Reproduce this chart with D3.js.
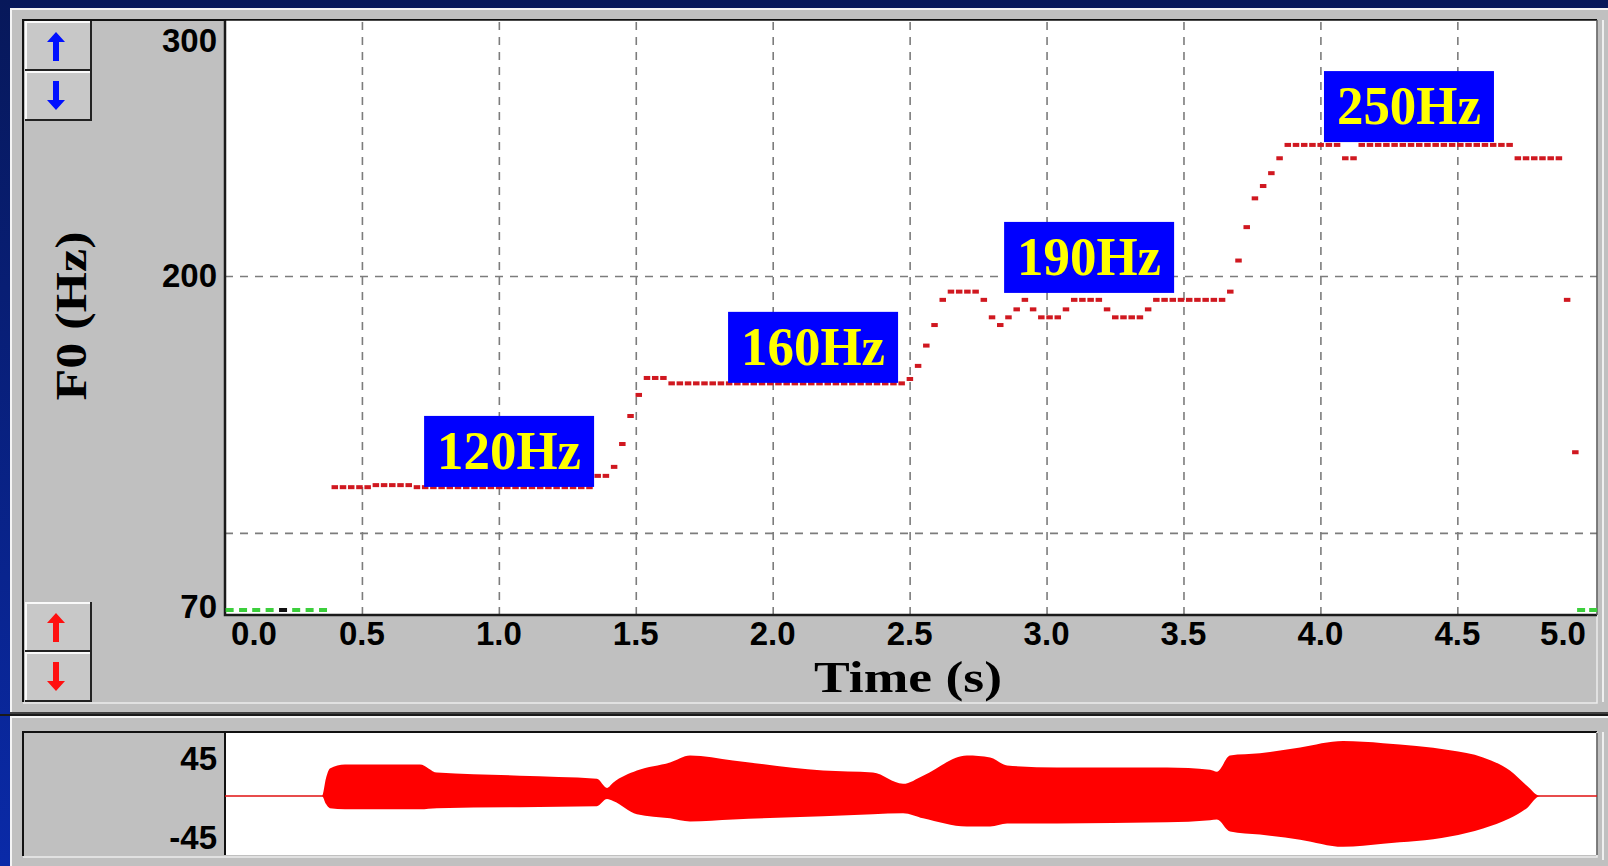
<!DOCTYPE html>
<html>
<head>
<meta charset="utf-8">
<script src="https://cdn.jsdelivr.net/npm/d3@7"></script>
<style>
  html, body { margin: 0; padding: 0; overflow: hidden; background: #0a1f7a; }
  svg { display: block; }
  .tick-label { font-family: 'Liberation Sans', Arial, sans-serif; font-weight: bold; font-size: 33px; fill: #000; }
  .axis-title { font-family: 'Liberation Serif', 'Times New Roman', serif; font-weight: bold; font-size: 44px; fill: #000; }
  .tag text { font-family: 'Liberation Serif', 'Times New Roman', serif; font-weight: bold; font-size: 55px; fill: #ffff00; }
</style>
</head>
<body>
<svg id="chart"></svg>
<script>
// F0 track: one value per analysis frame (Hz)
var f0Start = 0.40
var frameStep = 0.03
var f0Values = [
  117.8, 117.8, 117.8, 117.8, 117.8,
  118.6, 118.6, 118.6, 118.6, 118.6,
  117.8, 117.8, 117.8, 117.8, 117.8, 117.8, 117.8, 117.8, 117.8, 117.8, 117.8,
  117.8, 117.8, 117.8, 117.8, 117.8, 117.8, 117.8, 117.8, 117.8, 117.8, 117.8,
  122.2, 122.2,
  125.7, 134.6, 145.5, 153.7,
  160.3, 160.3, 160.3,
  158.2, 158.2, 158.2, 158.2, 158.2, 158.2, 158.2, 158.2, 158.2, 158.2,
  158.2, 158.2, 158.2, 158.2, 158.2, 158.2, 158.2, 158.2, 158.2, 158.2,
  158.2, 158.2, 158.2, 158.2, 158.2, 158.2, 158.2, 158.2, 158.2,
  159.9, 165.0, 172.9, 180.9, 190.7,
  193.9, 193.9, 193.9, 193.9,
  190.7, 183.9, 180.9, 183.9, 187.0, 190.7, 187.0,
  183.9, 183.9, 183.9,
  187.0,
  190.7, 190.7, 190.7, 190.7,
  187.0,
  183.9, 183.9, 183.9, 183.9,
  187.0,
  190.7, 190.7, 190.7, 190.7, 190.7, 190.7, 190.7, 190.7, 190.7,
  193.9, 206.0, 219.0, 230.2, 235.0, 240.0, 245.8,
  251.0, 251.0, 251.0, 251.0, 251.0, 251.0, 251.0,
  245.8, 245.8,
  251.0, 251.0, 251.0, 251.0, 251.0, 251.0, 251.0, 251.0, 251.0, 251.0,
  251.0, 251.0, 251.0, 251.0, 251.0, 251.0, 251.0, 251.0, 251.0,
  245.8, 245.8, 245.8, 245.8, 245.8, 245.8,
  190.7, 131.4
]

// voicing markers along the floor (green = unvoiced, black = silence)
var markTimes = [0.006, 0.055, 0.103, 0.152, 0.201, 0.249, 0.298, 0.347, 4.941, 4.985]
var markKinds = ['u', 'u', 'u', 'u', 's', 'u', 'u', 'u', 'u', 'u']

// annotation tags: time of left edge, Hz at bottom edge
var tagText = ['120Hz', '160Hz', '190Hz', '250Hz']
var tagTime = [0.727, 1.837, 2.845, 4.013]
var tagHz = [117.9, 158.4, 193.4, 252.1]

// ticks
var xTicks = [0.0, 0.5, 1.0, 1.5, 2.0, 2.5, 3.0, 3.5, 4.0, 4.5, 5.0]
var xGrid = [0.5, 1.0, 1.5, 2.0, 2.5, 3.0, 3.5, 4.0, 4.5]
var yTicks = [70, 200, 300]
var yGrid = [100, 200]
var ampTicks = [45, -45]

// waveform envelope (amplitude units)
var envTimes = [0.00, 0.354, 0.369, 0.383, 0.438, 0.712, 0.774, 1.077, 1.358, 1.395, 1.417,
  1.504, 1.625, 1.698, 1.855, 2.184, 2.366, 2.476, 2.549, 2.709, 2.794, 2.856, 3.038,
  3.440, 3.597, 3.622, 3.670, 3.779, 3.926, 4.083, 4.229, 4.473, 4.594, 4.692, 4.754, 4.802, 5.01]
var envUpper = [0, 0, 20, 30.5, 35, 35, 26, 22.6, 19.2, 9, 14.7,
  28.2, 37.2, 45, 39.5, 28.2, 26, 13.5, 22.6, 45, 42.9, 33.9, 31.6,
  31.6, 29.3, 27, 45, 47.4, 54, 61, 58.7, 50.8, 42.9, 28.2, 11.3, 0, 0]
var envLower = [0, 0, -9, -13.5, -14.7, -14.7, -13.5, -12.4, -11.3, -3.4, -5.6,
  -20.3, -24.8, -28.2, -26, -22.6, -20.3, -19.2, -24.8, -33.9, -33.9, -30.5, -30.5,
  -29.3, -27, -26, -39.5, -42.9, -48.5, -56.4, -53, -45, -36, -24.8, -13.5, 0, 0]

var W = 1608, H = 866
var plotL = 225, plotR = 1597, plotT = 20, plotB = 615
var waveT = 733, waveB = 855

var svg = d3.select('#chart').attr('width', W).attr('height', H)

var x = d3.scaleLinear().domain([0, 5.01]).range([plotL, plotR])
var y = d3.scaleLinear().domain([70, 300]).range([610, 19])
var amp = d3.scaleLinear().domain([-70, 70]).range([859, 733])

// slide background
var defs = svg.append('defs')
var grad = defs.append('linearGradient').attr('id', 'bg')
  .attr('x1', 0).attr('y1', 0).attr('x2', 0).attr('y2', 1)
grad.append('stop').attr('offset', '0%').attr('stop-color', '#07185a')
grad.append('stop').attr('offset', '100%').attr('stop-color', '#0a2aa8')
svg.append('rect').attr('width', W).attr('height', H).attr('fill', 'url(#bg)')

var _line = function(d, stroke, width) {
  svg.append('path').attr('d', d).attr('fill', 'none')
    .attr('stroke', stroke).attr('stroke-width', width || 1)
}

// window frames
svg.append('rect').attr('x', 10).attr('y', 8).attr('width', W).attr('height', 706).attr('fill', '#c0c0c0')
_line('M11,713V9H' + W, '#f4f4f4', 2)
_line('M10,713H' + W, '#404040', 2)
svg.append('rect').attr('x', 10).attr('y', 716).attr('width', W).attr('height', 160).attr('fill', '#c0c0c0')
_line('M11,' + H + 'V717H' + W, '#f4f4f4', 2)
_line('M0,715H' + W, '#1a1a1a', 2)

// sunken panels
_line('M23,702V20H' + plotR, '#111', 2)
_line('M23,703H' + plotR + 'V20', '#ececec', 1.5)
_line('M' + (plotR + 6) + ',20V702', '#ffffff', 1.5)
_line('M23,856V732H' + plotR, '#111', 2)
_line('M23,857H' + plotR + 'V732', '#ececec', 1.5)
_line('M' + (plotR + 6) + ',732V860', '#ffffff', 1.5)

// plot areas
svg.append('rect').attr('x', plotL).attr('y', plotT).attr('width', plotR - plotL).attr('height', plotB - plotT).attr('fill', '#fff')
svg.append('rect').attr('x', plotL).attr('y', waveT).attr('width', plotR - plotL).attr('height', waveB - waveT).attr('fill', '#fff')

// grid
var gx = svg.append('g').attr('transform', 'translate(0,' + plotB + ')')
  .call(d3.axisBottom(x).tickValues(xGrid).tickSize(-(plotB - plotT)).tickFormat(''))
var gy = svg.append('g').attr('transform', 'translate(' + plotL + ',0)')
  .call(d3.axisLeft(y).tickValues(yGrid).tickSize(-(plotR - plotL)).tickFormat(''))
;[gx, gy].forEach(function(g) {
  g.select('.domain').remove()
  g.selectAll('.tick line').attr('stroke', '#7c7c7c').attr('stroke-width', 1.6).attr('stroke-dasharray', '8 7')
})

// plot borders
_line('M' + plotL + ',' + plotT + 'V' + plotB + 'H' + plotR, '#1a1a1a', 2.5)
_line('M' + plotL + ',' + plotT + 'H' + plotR, '#111', 1.5)
_line('M' + plotR + ',' + plotT + 'V' + plotB, '#555', 1.5)
_line('M' + plotL + ',' + waveT + 'V' + waveB, '#111', 2)
_line('M' + plotR + ',' + waveT + 'V' + waveB, '#555', 1.5)

// floor markers
svg.append('g').selectAll('rect').data(markTimes).enter().append('rect')
  .attr('x', function(t) { return x(t) - 1 })
  .attr('y', y(70) - 2)
  .attr('width', 8).attr('height', 4)
  .attr('fill', function(t, i) { return markKinds[i] === 's' ? '#111' : '#3ccf3c' })

// F0 track
var f0Points = f0Values.map(function(v, i) { return { t: f0Start + i * frameStep, hz: v } })
  .filter(function(p) { return p.hz != null })
svg.append('g').selectAll('rect').data(f0Points).enter().append('rect')
  .attr('x', function(p) { return x(p.t) - 3 })
  .attr('y', function(p) { return y(p.hz) - 2 })
  .attr('width', 6.5).attr('height', 4)
  .attr('fill', '#d01820')

// tags
var tags = svg.append('g').attr('class', 'tag').selectAll('g')
  .data(tagText).enter().append('g')
  .attr('transform', function(d, i) { return 'translate(' + x(tagTime[i]) + ',' + (y(tagHz[i]) - 71) + ')' })
tags.append('rect').attr('width', 170).attr('height', 71).attr('fill', '#0000ff')
tags.append('text').attr('x', 85).attr('y', 53).attr('text-anchor', 'middle')
  .attr('textLength', 144).attr('lengthAdjust', 'spacingAndGlyphs')
  .text(function(d) { return d })

// waveform
svg.append('path').attr('d', 'M' + plotL + ',' + amp(0) + 'H' + plotR)
  .attr('stroke', '#e01010').attr('stroke-width', 1.5)
var area = d3.area()
  .x(function(d, i) { return x(envTimes[i]) })
  .y0(function(d, i) { return amp(envLower[i]) })
  .y1(function(d, i) { return amp(envUpper[i]) })
  .curve(d3.curveMonotoneX)
svg.append('path').attr('d', area(envTimes)).attr('fill', '#ff0000')

// tick labels
svg.append('g').selectAll('text').data(xTicks).enter().append('text')
  .attr('class', 'tick-label')
  .attr('x', function(t) { return Math.max(254, Math.min(1563, x(t))) })
  .attr('y', 645).attr('text-anchor', 'middle')
  .text(function(t) { return t.toFixed(1) })
svg.append('g').selectAll('text').data(yTicks).enter().append('text')
  .attr('class', 'tick-label')
  .attr('x', 217)
  .attr('y', function(v) { return Math.max(40, Math.min(606, y(v))) })
  .attr('text-anchor', 'end').attr('dominant-baseline', 'central')
  .text(function(v) { return v })
svg.append('g').selectAll('text').data(ampTicks).enter().append('text')
  .attr('class', 'tick-label')
  .attr('x', 217)
  .attr('y', function(v) { return amp(v) + (v > 0 ? 3 : 1) })
  .attr('text-anchor', 'end').attr('dominant-baseline', 'central')
  .text(function(v) { return v })

// axis titles
svg.append('text').attr('class', 'axis-title')
  .attr('x', 908).attr('y', 692).attr('text-anchor', 'middle')
  .attr('textLength', 188).attr('lengthAdjust', 'spacingAndGlyphs')
  .text('Time (s)')
svg.append('text').attr('class', 'axis-title')
  .attr('transform', 'translate(86,316) rotate(-90)')
  .attr('text-anchor', 'middle')
  .attr('textLength', 169).attr('lengthAdjust', 'spacingAndGlyphs')
  .text('F0 (Hz)')

// scroll buttons
var buttons = [
  { y: 21, dir: -1, color: '#0010ff' },
  { y: 71, dir: 1, color: '#0010ff' },
  { y: 602, dir: -1, color: '#ff1010' },
  { y: 652, dir: 1, color: '#ff1010' }
]
buttons.forEach(function(b) {
  var g = svg.append('g').attr('transform', 'translate(25,' + b.y + ')')
  g.append('rect').attr('width', 66).attr('height', 49).attr('fill', '#c8c8c8')
  g.append('path').attr('d', 'M1,48V1H65').attr('fill', 'none').attr('stroke', '#fafafa').attr('stroke-width', 2)
  g.append('path').attr('d', 'M0,49H66V0').attr('fill', 'none').attr('stroke', '#222').attr('stroke-width', 2)
  var cx = 31, cy = 25
  var d = b.dir < 0
    ? 'M' + (cx - 3) + ',' + (cy + 15) + 'V' + (cy - 4) + 'H' + (cx - 9) + 'L' + cx + ',' + (cy - 14) + 'L' + (cx + 9) + ',' + (cy - 4) + 'H' + (cx + 3) + 'V' + (cy + 15) + 'Z'
    : 'M' + (cx - 3) + ',' + (cy - 15) + 'V' + (cy + 4) + 'H' + (cx - 9) + 'L' + cx + ',' + (cy + 14) + 'L' + (cx + 9) + ',' + (cy + 4) + 'H' + (cx + 3) + 'V' + (cy - 15) + 'Z'
  g.append('path').attr('d', d).attr('fill', b.color)
})
</script>
</body>
</html>
